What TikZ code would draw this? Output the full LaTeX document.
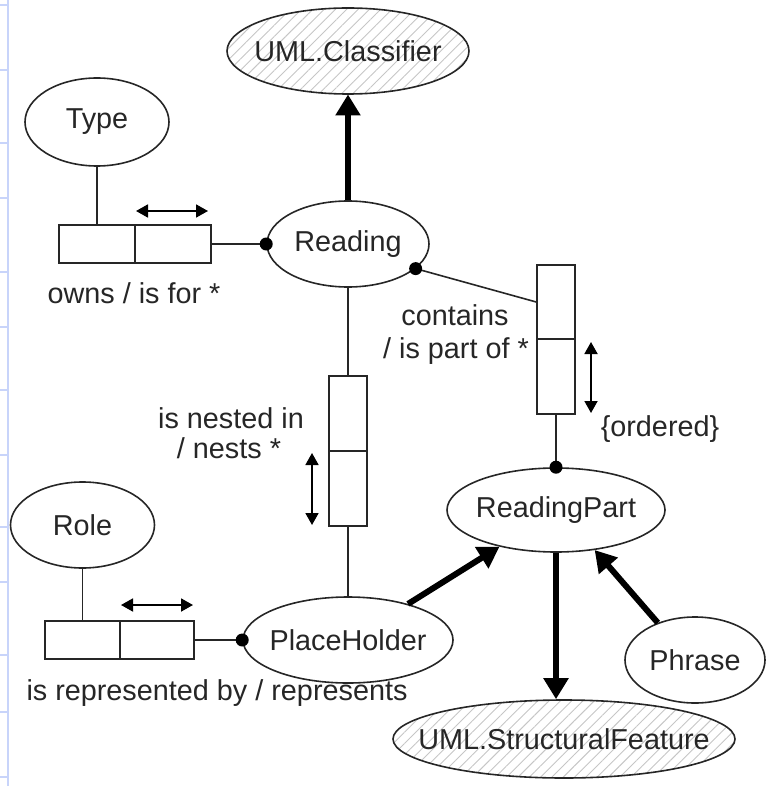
\documentclass[tikz,border=0pt]{standalone}
\usepackage{fontspec}
\setmainfont{Liberation Sans}
\usetikzlibrary{shapes.geometric,arrows.meta,patterns.meta}
\definecolor{ink}{RGB}{38,38,38}
\definecolor{sideblue}{RGB}{200,212,250}
\newcommand{\zw}[1]{\makebox[0pt]{#1}}
\begin{document}
\begin{tikzpicture}[x=1pt,y=-1pt,
  every node/.style={font=\fontsize{28.8}{33}\selectfont, text=ink},
  ell/.style={ellipse, draw=ink, line width=1.6pt, inner sep=0pt},
  hatch/.style={pattern={Lines[angle=45,distance=8pt,line width=0.9pt]}, pattern color=gray!45},
  cell/.style={rectangle, draw=ink, line width=1.6pt, inner sep=0pt},
  link/.style={draw=ink, line width=1.6pt},
  isa/.style={draw=black, line width=6pt, -{Triangle[width=24pt,length=21pt]}},
  dbl/.style={draw=black, line width=1.8pt, {Triangle[width=13pt,length=12pt]}-{Triangle[width=13pt,length=12pt]}},
  lbl/.style={anchor=base, inner sep=0pt},
  dotc/.style={fill=black}
]
\useasboundingbox (0,0) rectangle (766,786);
% left margin ruler
\draw[sideblue, line width=2pt] (8,0) -- (8,786);
\foreach \t in {5,70,143,198,272,327,390,455,527,582,655,712,777}
  \draw[sideblue, line width=2pt] (0,\t) -- (8,\t);

% ellipses
\node[ell,hatch,minimum width=242pt,minimum height=86pt] (cls) at (348,51) {\zw{UML.Classifier}};
\node[ell,minimum width=144pt,minimum height=88pt] (type) at (97,122) {\zw{Type}};
\node[ell,minimum width=162pt,minimum height=86pt] (reading) at (348,244) {\zw{Reading}};
\node[ell,minimum width=218pt,minimum height=84pt] (rpart) at (556,510) {\zw{ReadingPart}};
\node[ell,minimum width=144pt,minimum height=86pt] (role) at (82.5,525) {\zw{Role}};
\node[ell,minimum width=210pt,minimum height=86pt] (ph) at (348,640) {\zw{PlaceHolder}};
\node[ell,minimum width=140pt,minimum height=86pt] (phrase) at (695,660) {\zw{Phrase}};
\node[ell,hatch,minimum width=342pt,minimum height=78pt] (sf) at (564,739) {\zw{UML.StructuralFeature}};

% fact type boxes
\node[cell,minimum width=76pt,minimum height=38pt] (b1a) at (97,244) {};
\node[cell,minimum width=76pt,minimum height=38pt] (b1b) at (173,244) {};
\node[cell,minimum width=38pt,minimum height=74pt] (b2a) at (556,302) {};
\node[cell,minimum width=38pt,minimum height=75pt] (b2b) at (556,376.5) {};
\node[cell,minimum width=38pt,minimum height=75pt] (b3a) at (348,413.5) {};
\node[cell,minimum width=38pt,minimum height=75pt] (b3b) at (348,488.5) {};
\node[cell,minimum width=75pt,minimum height=38pt] (b4a) at (82.5,640) {};
\node[cell,minimum width=74pt,minimum height=38pt] (b4b) at (157,640) {};

% role connectors
\draw[link] (type.south) -- (b1a.north);
\draw[link] (b1b.east) -- (reading.west);
\fill[dotc] (reading.west) circle (6.5pt);
\draw[link] (reading.-20) -- (b2a.west);
\fill[dotc] (reading.-20) circle (6.5pt);
\draw[link] (b2b.south) -- (rpart.north);
\fill[dotc] (rpart.north) circle (6.5pt);
\draw[link] (reading.south) -- (b3a.north);
\draw[link] (b3b.south) -- (ph.north);
\draw[link] (role.south) -- (b4a.north);
\draw[link] (b4b.east) -- (ph.west);
\fill[dotc] (ph.west) circle (6.5pt);

% subtype arrows
\draw[isa] (reading.north) -- (cls.south);
\draw[isa] (ph.31) -- (rpart.213);
\draw[isa] (rpart.south) -- (rpart.south |- sf.north);
\draw[isa] (phrase.135) -- (rpart.-46);

% reading direction arrows
\coordinate (d1a) at (136,211); \coordinate (d1b) at (208,211);
\coordinate (d2a) at (591,342); \coordinate (d2b) at (591,413);
\coordinate (d3a) at (312,453); \coordinate (d3b) at (312,525);
\coordinate (d4a) at (121,605); \coordinate (d4b) at (193,605);
\draw[dbl] (d1a) -- (d1b);
\draw[dbl] (d2a) -- (d2b);
\draw[dbl] (d3a) -- (d3b);
\draw[dbl] (d4a) -- (d4b);

% labels
\node[lbl] (l1) at (134,303) {owns / is for *};
\node[lbl] (l2a) at (455,325) {contains};
\node[lbl] (l2b) at (456,358) {/ is part of *};
\node[lbl] (l3a) at (231,428) {is nested in};
\node[lbl] (l3b) at (229,458) {/ nests *};
\node[lbl] (l4) at (660,436) {\{ordered\}};
\node[lbl] (l5) at (217,700) {is represented by / represents};
\end{tikzpicture}
\end{document}
